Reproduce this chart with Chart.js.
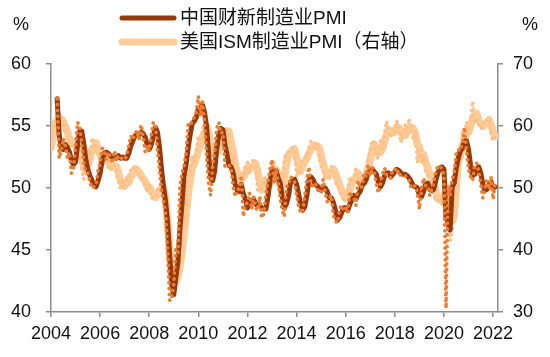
<!DOCTYPE html>
<html>
<head>
<meta charset="utf-8">
<script src="https://cdn.jsdelivr.net/npm/chart.js@4.4.1/dist/chart.umd.min.js"></script>
<style>
  html, body { margin: 0; padding: 0; background: #fff; }
  #wrap { width: 550px; height: 357px; position: relative; }
</style>
</head>
<body>
<div id="wrap"><canvas id="c" width="550" height="357"></canvas></div>
<script>
// ---- data (monthly) ----
const START_YEAR = 2004;           // month index 0 = Jan 2004
const caixinStartMonth = 3;        // Apr 2004
const ismStartMonth = 0;           // Jan 2004

const seriesNames = ['中国财新制造业PMI', '美国ISM制造业PMI（右轴）'];
const xTickYears = [2004, 2006, 2008, 2010, 2012, 2014, 2016, 2018, 2020, 2022];
const leftTicks = [40, 45, 50, 55, 60];
const rightTicks = [30, 40, 50, 60, 70];

// Caixin manufacturing PMI, monthly readings (dotted)
const caixinMonthly = [
  57.2, 52.4, 53.0, 54.0, 53.4, 52.4, 52.9, 51.2, 51.6,
  53.5, 55.3, 55.0, 53.6, 52.1, 51.3, 51.2, 50.5, 50.0, 50.1, 50.2, 51.4,
  52.0, 53.2, 53.1, 52.3, 52.9, 52.5, 52.0, 53.0, 52.2, 52.6, 52.5, 52.3,
  52.3, 52.6, 53.4, 54.2, 53.9, 54.4, 54.6, 53.9, 55.1, 54.2, 52.9, 53.4,
  53.0, 54.2, 55.3, 55.1, 53.2, 51.5, 49.8, 49.0, 47.9, 44.8, 40.9, 41.2,
  42.2, 45.1, 44.8, 50.1, 51.2, 51.8, 52.8, 55.1, 55.0, 55.4, 55.7, 56.1,
  57.4, 55.8, 57.0, 55.4, 52.7, 50.4, 49.4, 51.9, 52.9, 54.8, 55.3, 54.4,
  54.5, 51.7, 51.8, 51.8, 51.6, 50.1, 49.3, 49.9, 49.9, 51.0, 47.7, 48.7,
  48.8, 49.6, 48.3, 49.3, 48.4, 48.2, 49.3, 47.6, 47.9, 49.5, 50.5, 51.5,
  52.3, 50.4, 51.6, 50.4, 49.2, 48.2, 47.7, 50.1, 50.2, 50.9, 50.8, 50.5,
  49.5, 48.5, 48.0, 48.1, 49.4, 50.7, 51.7, 50.2, 50.2, 50.4, 50.0, 49.6,
  49.7, 50.7, 49.6, 48.9, 49.2, 49.4, 47.8, 47.3, 47.2, 48.3, 48.6, 48.2,
  48.4, 48.0, 49.7, 49.4, 49.2, 48.6, 50.6, 50.0, 50.1, 51.2, 50.9, 51.9,
  51.0, 51.7, 51.2, 50.3, 49.6, 50.4, 51.1, 51.6, 51.0, 51.0, 50.8, 51.5,
  51.5, 51.6, 51.0, 51.1, 51.1, 51.0, 50.8, 50.6, 50.0, 50.1, 50.2, 49.7,
  48.3, 49.9, 50.8, 50.2, 50.2, 49.4, 49.9, 50.4, 51.4, 51.7, 51.8, 51.5,
  51.1, 40.3, 50.1, 49.4, 50.7, 51.2, 52.8, 53.1, 53.0, 53.6, 54.9, 53.0,
  51.5, 50.9, 50.6, 51.9, 52.0, 51.3, 50.3, 49.2, 50.0, 50.6, 49.9, 50.9,
  49.1, 50.4
];
// Caixin, smoothed line (solid)
const caixinSmooth = [
  57.2, 54.3, 53.2, 53.1, 53.5, 53.3, 52.9, 52.2, 51.9,
  52.1, 53.5, 54.6, 54.6, 53.6, 52.3, 51.5, 51.0, 50.6, 50.2, 50.1, 50.6,
  51.2, 52.2, 52.8, 52.9, 52.8, 52.6, 52.5, 52.5, 52.4, 52.6, 52.4, 52.5,
  52.4, 52.4, 52.8, 53.4, 53.8, 54.2, 54.3, 54.3, 54.5, 54.4, 54.1, 53.5,
  53.1, 53.5, 54.2, 54.9, 54.5, 53.3, 51.5, 50.1, 48.9, 47.2, 44.5, 42.3,
  41.4, 42.8, 44.0, 46.7, 48.7, 51.0, 51.9, 53.2, 54.3, 55.2, 55.4, 55.7,
  56.4, 56.4, 56.7, 56.1, 55.0, 52.8, 50.8, 50.6, 51.4, 53.2, 54.3, 54.8,
  54.7, 53.5, 52.7, 51.8, 51.7, 51.2, 50.3, 49.8, 49.7, 50.3, 49.5, 49.1,
  48.4, 49.0, 48.9, 49.1, 48.7, 48.6, 48.6, 48.4, 48.3, 48.3, 49.3, 50.5,
  51.4, 51.4, 51.4, 50.8, 50.4, 49.3, 48.4, 48.7, 49.3, 50.4, 50.6, 50.7,
  50.3, 49.5, 48.7, 48.2, 48.5, 49.4, 50.6, 50.9, 50.7, 50.3, 50.2, 50.0,
  49.8, 50.0, 50.0, 49.7, 49.2, 49.2, 48.8, 48.2, 47.4, 47.6, 48.0, 48.4,
  48.4, 48.2, 48.7, 49.0, 49.4, 49.1, 49.5, 49.7, 50.2, 50.4, 50.7, 51.3,
  51.3, 51.5, 51.3, 51.1, 50.4, 50.1, 50.4, 51.0, 51.2, 51.2, 50.9, 51.1,
  51.3, 51.5, 51.4, 51.2, 51.1, 51.1, 51.0, 50.8, 50.5, 50.2, 50.1, 50.0,
  49.4, 49.3, 49.7, 50.3, 50.4, 49.9, 49.8, 49.9, 50.6, 51.2, 51.6, 51.7,
  51.5, 47.6, 47.2, 46.6, 50.1, 50.4, 51.6, 52.4, 53.0, 53.2, 53.8, 53.8,
  53.1, 51.8, 51.0, 51.1, 51.5, 51.7, 51.2, 50.3, 49.8, 49.9, 50.2, 50.5,
  50.0, 50.1
];
// US ISM manufacturing PMI, monthly readings (dotted, right axis)
const ismMonthly = [
  58.0, 60.0, 61.2, 61.5, 61.4, 60.5, 60.3, 58.9, 58.0, 57.0, 56.8, 57.2,
  56.4, 55.8, 55.2, 53.3, 51.4, 53.6, 56.6, 53.6, 58.1, 57.0, 56.7, 55.6,
  54.0, 54.6, 54.2, 55.4, 53.2, 52.8, 54.2, 53.8, 52.6, 51.0, 49.8, 51.2,
  49.8, 52.0, 50.9, 53.0, 52.8, 53.5, 52.6, 51.8, 51.6, 51.0, 50.6, 49.2,
  50.7, 48.3, 48.6, 48.6, 49.6, 50.2, 50.0, 49.9, 44.8, 38.9, 36.2, 33.1,
  35.5, 35.8, 36.0, 40.4, 42.8, 45.3, 49.1, 52.4, 52.4, 55.2, 53.7, 55.9,
  58.4, 56.5, 59.6, 60.4, 59.7, 56.2, 55.5, 56.3, 54.4, 56.9, 56.6, 57.5,
  59.0, 59.5, 59.2, 58.6, 54.0, 55.5, 51.2, 51.3, 51.8, 51.2, 52.1, 53.6,
  54.1, 52.4, 53.4, 54.8, 53.5, 49.7, 49.8, 49.6, 51.5, 51.7, 49.5, 50.7,
  53.1, 54.2, 51.3, 50.7, 49.0, 50.9, 54.9, 55.3, 55.8, 56.1, 56.5, 56.2,
  51.8, 53.0, 53.4, 54.5, 55.0, 55.0, 56.4, 57.5, 56.1, 57.2, 57.0, 55.2,
  53.5, 52.9, 51.5, 51.5, 52.8, 53.5, 52.7, 51.1, 50.2, 50.1, 48.6, 48.2,
  48.2, 49.5, 51.8, 50.8, 51.3, 53.2, 52.6, 49.4, 51.5, 51.9, 53.2, 54.7,
  56.0, 57.7, 57.2, 54.8, 54.9, 57.8, 56.3, 58.8, 60.8, 58.7, 58.2, 59.7,
  59.1, 60.8, 59.3, 57.3, 58.7, 60.2, 58.1, 61.3, 59.8, 57.7, 59.3, 54.1,
  56.6, 54.2, 55.3, 52.8, 52.1, 51.7, 51.2, 49.1, 47.8, 48.3, 48.1, 47.2,
  50.9, 50.1, 49.1, 41.5, 43.1, 52.6, 54.2, 56.0, 55.4, 59.3, 57.5, 60.7,
  58.7, 60.8, 64.0, 60.7, 61.2, 60.6, 59.5, 59.9, 61.1, 60.8, 61.1, 58.7,
  57.6, 58.6
];
// ISM, smoothed line (solid, right axis)
const ismSmooth = [
  56.5, 58.6, 60.2, 60.9, 61.4, 61.1, 60.7, 59.9, 59.1, 58.0, 57.3, 57.0,
  56.8, 56.5, 55.8, 54.8, 53.3, 52.8, 53.9, 54.6, 56.1, 56.2, 57.3, 56.4,
  55.4, 54.7, 54.3, 54.7, 54.3, 53.8, 53.4, 53.6, 53.5, 52.5, 51.1, 50.7,
  50.3, 51.0, 50.9, 52.0, 52.2, 53.1, 53.0, 52.6, 52.0, 51.5, 51.1, 50.3,
  50.2, 49.4, 49.2, 48.5, 48.9, 49.5, 49.9, 50.0, 48.2, 44.5, 40.0, 36.1,
  34.9, 34.8, 35.8, 37.4, 39.7, 42.8, 45.7, 48.9, 51.3, 53.3, 53.8, 54.9,
  56.0, 56.9, 58.2, 58.8, 59.9, 58.8, 57.1, 56.0, 55.4, 55.9, 56.0, 57.0,
  57.7, 58.7, 59.2, 59.1, 57.3, 56.0, 53.6, 52.7, 51.4, 51.4, 51.7, 52.3,
  53.3, 53.4, 53.3, 53.5, 53.9, 52.7, 51.0, 49.7, 50.3, 50.9, 50.9, 50.6,
  51.1, 52.7, 52.9, 52.1, 50.3, 50.2, 51.6, 53.7, 55.3, 55.7, 56.1, 56.3,
  54.8, 53.7, 52.7, 53.6, 54.3, 54.8, 55.5, 56.3, 56.7, 56.9, 56.8, 56.5,
  55.2, 53.9, 52.6, 52.0, 51.9, 52.6, 53.0, 52.4, 51.3, 50.5, 49.6, 49.0,
  48.3, 48.6, 49.8, 50.7, 51.3, 51.8, 52.4, 51.7, 51.2, 50.9, 52.2, 53.3,
  54.6, 56.1, 57.0, 56.6, 55.6, 55.8, 56.3, 57.6, 58.6, 59.4, 59.2, 58.9,
  59.0, 59.9, 59.7, 59.1, 58.4, 58.7, 59.0, 59.9, 59.7, 59.6, 58.9, 57.0,
  56.7, 55.0, 55.4, 54.1, 53.4, 52.2, 51.7, 50.7, 49.4, 48.4, 48.1, 47.9,
  48.7, 49.4, 50.0, 46.9, 44.6, 45.7, 50.0, 54.3, 55.2, 56.9, 57.4, 59.2,
  59.0, 60.1, 61.2, 61.8, 62.0, 60.8, 60.4, 60.0, 60.2, 60.6, 61.0, 60.2,
  59.1, 58.3
];

// ---- styling ----
const COL_DARK = '#963809';
const COL_PEACH = '#FFCB97';
const COL_ORANGE = '#ED7D31';
const COL_PEACH_DOT = '#FBC28C';
const AXIS_COL = '#8C8C8C';
const FONT = '"Liberation Sans", Arial, "Noto Sans CJK SC", sans-serif';

const toPoints = (vals, start) => vals.map((v, k) => ({ x: START_YEAR + (start + k) / 12, y: v }));

const legendPlugin = {
  id: 'customLegend',
  afterDraw(chart) {
    const ctx = chart.ctx;
    ctx.save();
    ctx.lineCap = 'round';
    const items = [
      { y: 18, color: COL_DARK, w: 5, text: seriesNames[0] },
      { y: 42, color: COL_PEACH, w: 7, text: seriesNames[1] }
    ];
    items.forEach(it => {
      ctx.strokeStyle = it.color;
      ctx.lineWidth = it.w;
      ctx.beginPath();
      ctx.moveTo(122, it.y);
      ctx.lineTo(174, it.y);
      ctx.stroke();
      ctx.fillStyle = '#111';
      ctx.font = '19px ' + FONT;
      ctx.textBaseline = 'middle';
      ctx.textAlign = 'left';
      ctx.fillText(it.text, 180, it.y + 1);
    });
    ctx.font = '18px ' + FONT;
    ctx.textAlign = 'center';
    ctx.fillText('%', 21, 25);
    ctx.fillText('%', 530, 25);
    ctx.restore();
  }
};

const gridCommon = {
  display: true,
  drawOnChartArea: false,
  drawTicks: true,
  tickLength: 5,
  color: AXIS_COL,
  lineWidth: 1.5
};
const borderCommon = { display: true, color: AXIS_COL, width: 1.5 };

new Chart(document.getElementById('c'), {
  type: 'line',
  data: {
    datasets: [
      {
        label: seriesNames[0], data: toPoints(caixinSmooth, caixinStartMonth), yAxisID: 'y',
        borderColor: COL_DARK, borderWidth: 5, pointRadius: 0, tension: 0, order: 2,
        borderJoinStyle: 'round', borderCapStyle: 'round'
      },
      {
        label: 'caixin-dots', data: toPoints(caixinMonthly, caixinStartMonth), yAxisID: 'y',
        borderColor: COL_ORANGE, borderWidth: 3.8, borderDash: [0.01, 5.8], borderCapStyle: 'round',
        pointRadius: 0, tension: 0, order: 1
      },
      {
        label: seriesNames[1], data: toPoints(ismSmooth, ismStartMonth), yAxisID: 'y2',
        borderColor: COL_PEACH, borderWidth: 7.5, pointRadius: 0, tension: 0, order: 4,
        borderJoinStyle: 'round', borderCapStyle: 'round'
      },
      {
        label: 'ism-dots', data: toPoints(ismMonthly, ismStartMonth), yAxisID: 'y2',
        borderColor: COL_PEACH_DOT, borderWidth: 3.8, borderDash: [0.01, 5.8], borderCapStyle: 'round',
        pointRadius: 0, tension: 0, order: 3
      }
    ]
  },
  options: {
    responsive: false,
    animation: false,
    devicePixelRatio: 1,
    layout: { padding: { top: 64, left: 0, right: 0, bottom: 0 } },
    plugins: { legend: { display: false }, tooltip: { enabled: false }, title: { display: false } },
    scales: {
      x: {
        type: 'linear',
        min: 2004, max: 2022.2,
        afterFit: s => { s.height = 45; },
        afterBuildTicks: s => { s.ticks = xTickYears.map(v => ({ value: v })); },
        ticks: {
          padding: 6, color: '#111', font: { family: FONT, size: 18 },
          maxRotation: 0, autoSkip: false, includeBounds: false,
          callback: v => String(v)
        },
        grid: gridCommon, border: borderCommon
      },
      y: {
        position: 'left', min: 40, max: 60,
        afterFit: s => { s.width = 51; },
        afterBuildTicks: s => { s.ticks = leftTicks.map(v => ({ value: v })); },
        ticks: { padding: 15, color: '#111', font: { family: FONT, size: 18 }, callback: v => String(v) },
        grid: gridCommon, border: borderCommon
      },
      y2: {
        position: 'right', min: 30, max: 70,
        afterFit: s => { s.width = 52; },
        afterBuildTicks: s => { s.ticks = rightTicks.map(v => ({ value: v })); },
        ticks: { padding: 10, color: '#111', font: { family: FONT, size: 18 }, callback: v => String(v) },
        grid: gridCommon, border: borderCommon
      }
    }
  },
  plugins: [legendPlugin]
});
</script>
</body>
</html>
